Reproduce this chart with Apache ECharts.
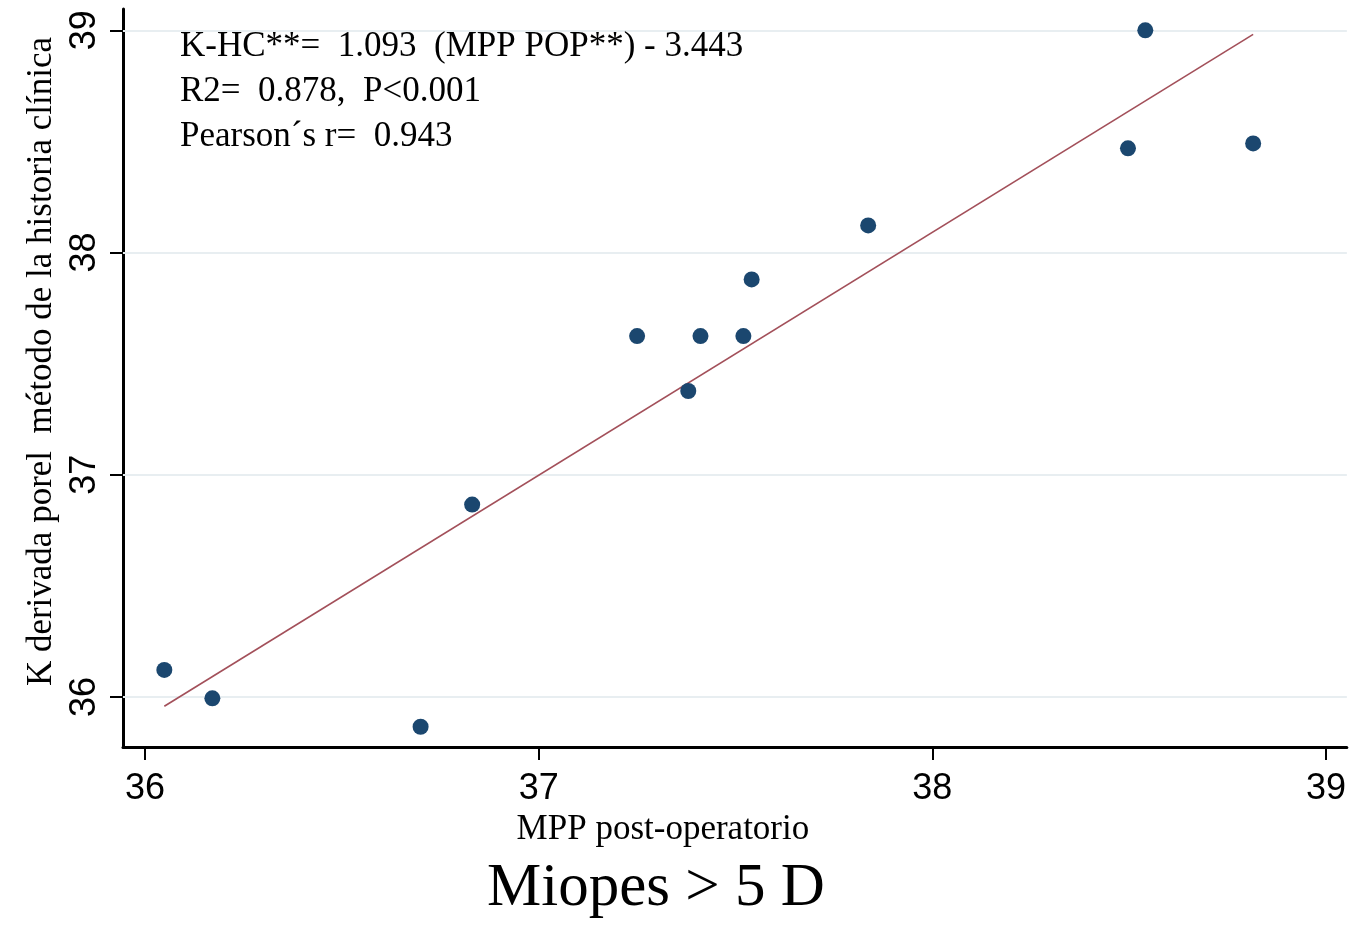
<!DOCTYPE html>
<html>
<head>
<meta charset="utf-8">
<script src="https://cdn.jsdelivr.net/npm/echarts@6/dist/echarts.min.js"></script>
<style>html,body{margin:0;padding:0;background:#fff}#c{width:1349px;height:947px}</style>
</head>
<body>
<div id="c"></div>
<script>
// Data
var mppPost = [36.049, 36.171, 36.700, 36.831, 37.250, 37.380, 37.411, 37.520, 37.541, 37.837, 38.497, 38.541, 38.815];
var kHc     = [36.122, 35.994, 35.866, 36.866, 37.624, 37.377, 37.624, 37.624, 37.879, 38.122, 38.469, 39.000, 38.491];
var xTicks = [36, 37, 38, 39];
var yTicks = [36, 37, 38, 39];
var slope = 1.093, intercept = -3.443;
var annotLines = ['K-HC**=  1.093  (MPP POP**) - 3.443', 'R2=  0.878,  P<0.001', 'Pearson\u00b4s r=  0.943'];
var chartTitle = 'Miopes > 5 D';
var xName = 'MPP post-operatorio';
var yName = 'K derivada porel  m\u00e9todo de la historia cl\u00ednica';

var points = mppPost.map(function (x, i) { return [x, kHc[i]]; });
var xMin = Math.min.apply(null, mppPost), xMax = Math.max.apply(null, mppPost);
var fitLine = [[xMin, slope * xMin + intercept], [xMax, slope * xMax + intercept]];

var serif = '"Liberation Serif", "DejaVu Serif", serif';
var sans = '"Liberation Sans", Arial, sans-serif';

var chart = echarts.init(document.getElementById('c'), null, { renderer: 'canvas' });
chart.setOption({
  animation: false,
  backgroundColor: '#ffffff',
  grid: { left: 123, right: 2, top: 9, bottom: 200, containLabel: false },
  xAxis: {
    type: 'value', min: 35.944, max: 39.053,
    name: xName, nameLocation: 'middle', nameGap: 56,
    nameTextStyle: { fontFamily: serif, fontSize: 35, color: '#000', padding: [0, 144, 0, 0] },
    axisLine: { lineStyle: { color: '#000', width: 3 } },
    axisTick: { show: true, length: 13, lineStyle: { color: '#000', width: 2 }, customValues: xTicks },
    axisLabel: { customValues: xTicks, fontFamily: sans, fontSize: 36, color: '#000', margin: 24 },
    splitLine: { show: false }
  },
  yAxis: {
    type: 'value', min: 35.775, max: 39.096,
    name: yName, nameLocation: 'middle', nameGap: 60, nameRotate: 90,
    nameTextStyle: { fontFamily: serif, fontSize: 35, color: '#000', padding: [0, 0, 0, 33] },
    axisLine: { lineStyle: { color: '#000', width: 3 } },
    axisTick: { show: true, length: 13, lineStyle: { color: '#000', width: 2 }, customValues: yTicks },
    axisLabel: { customValues: yTicks, rotate: 90, fontFamily: sans, fontSize: 36, color: '#000', margin: 20 },
    splitLine: { show: false }
  },
  graphic: [
    { type: 'text', left: 180, top: 29, z: 100, style: { text: annotLines[0], font: '35px ' + serif, fill: '#000' } },
    { type: 'text', left: 180, top: 74, z: 100, style: { text: annotLines[1], font: '35px ' + serif, fill: '#000' } },
    { type: 'text', left: 180, top: 119, z: 100, style: { text: annotLines[2], font: '35px ' + serif, fill: '#000' } },
    { type: 'text', left: 487, top: 858, z: 100, style: { text: chartTitle, font: '61px ' + serif, fill: '#000' } }
  ],
  series: [
    {
      type: 'scatter', data: points, symbol: 'circle', symbolSize: 16,
      itemStyle: { color: '#1b476f', opacity: 1 }, z: 3,
      markLine: {
        silent: true, symbol: 'none', label: { show: false },
        lineStyle: { color: '#e8eef1', width: 2, type: 'solid' },
        data: yTicks.map(function (v) { return { yAxis: v }; }),
        z: 1
      }
    },
    {
      type: 'line', data: fitLine, symbol: 'none', z: 2,
      lineStyle: { color: '#a3505a', width: 1.6 }
    }
  ]
});
</script>
</body>
</html>
